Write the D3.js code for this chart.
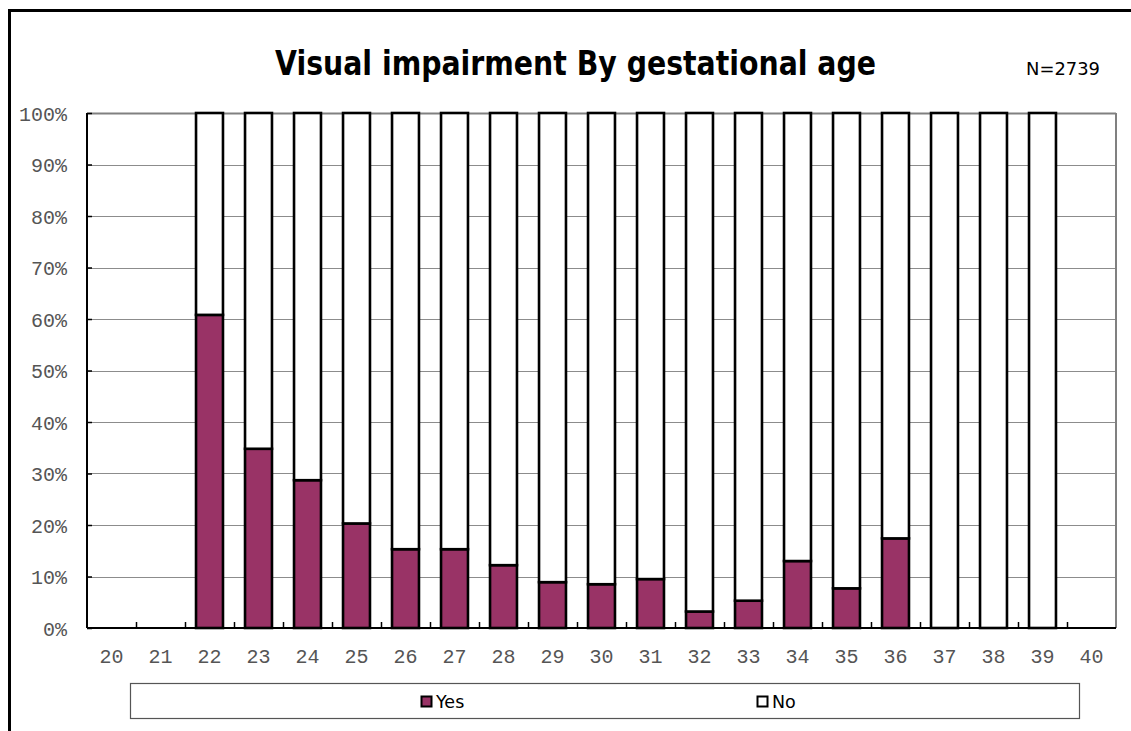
<!DOCTYPE html>
<html>
<head>
<meta charset="utf-8">
<script src="https://cdn.jsdelivr.net/npm/d3@7"></script>
<style>
  html, body { margin: 0; padding: 0; background: #fff; }
  svg { display: block; }
</style>
</head>
<body>
<svg id="chart" width="1131" height="731"></svg>
<script>
const categories = ["20","21","22","23","24","25","26","27","28","29","30","31","32","33","34","35","36","37","38","39","40"];
const yesValues = [null, null, 60.8, 34.8, 28.7, 20.3, 15.3, 15.3, 12.2, 8.9, 8.5, 9.5, 3.2, 5.3, 13.0, 7.7, 17.4, 0, 0, 0, null];
const noValues  = [null, null, 39.2, 65.2, 71.3, 79.7, 84.7, 84.7, 87.8, 91.1, 91.5, 90.5, 96.8, 94.7, 87.0, 92.3, 82.6, 100, 100, 100, null];
const yTicks = [0, 10, 20, 30, 40, 50, 60, 70, 80, 90, 100];
const seriesNames = ["Yes", "No"];
const seriesColors = ["#993366", "#ffffff"];
const titleText = "Visual impairment By gestational age";
const noteText = "N=2739";

const svg = d3.select("#chart");
const m = { left: 87, top: 113, right: 1116, bottom: 628 };

// outer frame
svg.append("rect").attr("x", 9.5).attr("y", 10.5).attr("width", 1300).attr("height", 900)
  .attr("fill", "none").attr("stroke", "#000").attr("stroke-width", 3);

const x = d3.scaleBand().domain(categories).range([m.left, m.right]).paddingInner(0.45).paddingOuter(0.225);
const xb = d3.scaleBand().domain(categories).range([m.left, m.right]);
const y = d3.scaleLinear().domain([0, 100]).range([m.bottom, m.top]);

// gridlines
svg.append("g").selectAll("line").data(yTicks.filter(d => d > 0)).join("line")
  .attr("x1", m.left).attr("x2", m.right)
  .attr("y1", d => Math.round(y(d)) + 0.5).attr("y2", d => Math.round(y(d)) + 0.5)
  .attr("stroke", d => d === 100 ? "#808080" : "#8c8c8c").attr("stroke-width", d => d === 100 ? 2 : 1);

// right border of plot
svg.append("line").attr("x1", m.right).attr("x2", m.right).attr("y1", m.top).attr("y2", m.bottom)
  .attr("stroke", "#808080").attr("stroke-width", 2);

// stacked data
const rows = categories.map((c, i) => ({ cat: c, Yes: yesValues[i], No: noValues[i] }))
  .filter(r => r.Yes !== null);
const stack = d3.stack().keys(seriesNames)(rows);

const gBars = svg.append("g");
stack.forEach((layer, li) => {
  gBars.append("g").selectAll("rect").data(layer).join("rect")
    .attr("x", d => x(d.data.cat))
    .attr("width", x.bandwidth())
    .attr("y", d => y(d[1]))
    .attr("height", d => y(d[0]) - y(d[1]))
    .attr("fill", seriesColors[li])
    .attr("stroke", "#000")
    .attr("stroke-width", 2.6);
});

const monoFont = "'Liberation Mono', 'DejaVu Sans Mono', monospace";

// y axis
const yAxis = d3.axisLeft(y).tickValues(yTicks).tickSize(-5).tickPadding(20).tickFormat(d => d + "%");
const gy = svg.append("g").attr("transform", `translate(${m.left},0)`).call(yAxis);
gy.select(".domain").attr("stroke", "#000").attr("stroke-width", 2).attr("d", `M0,${m.top}V${m.bottom}`);
gy.selectAll(".tick line").attr("stroke", "#000").attr("stroke-width", 1.5);
gy.selectAll(".tick text").attr("font-family", monoFont)
  .attr("font-size", 20).attr("fill", "#555").attr("dy", "0.36em");

// x axis
const xAxis = d3.axisBottom(xb).tickSize(0).tickPadding(21);
const gx = svg.append("g").attr("transform", `translate(0,${m.bottom})`).call(xAxis);
gx.select(".domain").attr("stroke", "#000").attr("stroke-width", 2).attr("d", `M${m.left},0H${m.right}`);
gx.selectAll(".tick text").attr("font-family", monoFont)
  .attr("font-size", 20).attr("fill", "#555").attr("dy", "0.68em");
// category boundary ticks (inside, pointing up)
svg.append("g").selectAll("line").data(categories.slice(1)).join("line")
  .attr("x1", d => Math.round(xb(d)) + 0.5).attr("x2", d => Math.round(xb(d)) + 0.5)
  .attr("y1", m.bottom).attr("y2", m.bottom - 6)
  .attr("stroke", "#000").attr("stroke-width", 1.5);

// title
svg.append("text").attr("x", 575.5).attr("y", 75).attr("text-anchor", "middle")
  .attr("font-family", "'DejaVu Sans', Verdana, sans-serif").attr("font-weight", "bold")
  .attr("font-size", 34).attr("textLength", 601).attr("lengthAdjust", "spacingAndGlyphs")
  .attr("fill", "#000").text(titleText);

svg.append("text").attr("x", 1100).attr("y", 75).attr("text-anchor", "end")
  .attr("font-family", "'DejaVu Sans', sans-serif").attr("font-size", 18)
  .attr("textLength", 74).attr("lengthAdjust", "spacingAndGlyphs")
  .attr("fill", "#000").text(noteText);

// legend
svg.append("rect").attr("x", 130.5).attr("y", 683.5).attr("width", 949).attr("height", 35)
  .attr("fill", "#fff").attr("stroke", "#555").attr("stroke-width", 1.2);
const legendX = [421, 757];
const lg = svg.append("g").selectAll("g").data(seriesNames).join("g")
  .attr("transform", (d, i) => `translate(${legendX[i]},696)`);
lg.append("rect").attr("x", 0.5).attr("y", 0.5).attr("width", 10).attr("height", 10)
  .attr("fill", (d, i) => seriesColors[i]).attr("stroke", "#000").attr("stroke-width", 2);
lg.append("text").attr("x", 15).attr("y", 12).attr("font-family", "'DejaVu Sans', sans-serif")
  .attr("font-size", 17.5).attr("fill", "#000").text(d => d);
</script>
</body>
</html>
